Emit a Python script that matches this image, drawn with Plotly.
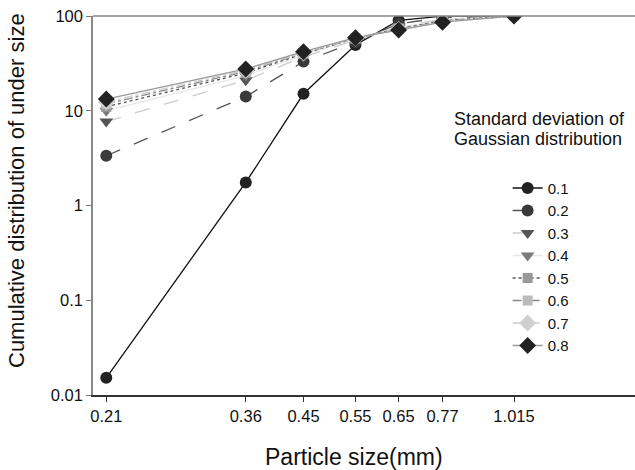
import plotly.graph_objects as go
import math

particle_size = [0.21, 0.36, 0.45, 0.55, 0.65, 0.77, 1.015]
tick_labels = ["0.21", "0.36", "0.45", "0.55", "0.65", "0.77", "1.015"]
series_names = ["0.1", "0.2", "0.3", "0.4", "0.5", "0.6", "0.7", "0.8"]

s01 = [0.0152, 1.75, 15.1, 49.5, 90, 99.5, 100]
s02 = [3.35, 14.1, 33, 53, 83, 96, 100]
s03 = [7.7, 21, 37, 56, 78, 92, 100]
s04 = [10, 23.5, 39, 57, 76, 90, 100]
s05 = [11, 25, 40, 58, 74, 89, 100]
s06 = [11.8, 26, 40.5, 58, 73, 88, 100]
s07 = [12.4, 26.8, 41, 58.5, 72, 87, 100]
s08 = [13.3, 27.6, 42, 59, 71, 86, 100]
values = [s01, s02, s03, s04, s05, s06, s07, s08]

styles = [
    dict(lc="#111111", dash="solid", sym="circle", mc="#222222", ms=12),
    dict(lc="#555555", dash="longdash", sym="circle", mc="#3a3a3a", ms=12),
    dict(lc="#cccccc", dash="longdash", sym="triangle-down", mc="#555555", ms=12),
    dict(lc="#e8e8e8", dash="solid", sym="triangle-down", mc="#7a7a7a", ms=12),
    dict(lc="#555555", dash="dot", sym="square", mc="#999999", ms=10),
    dict(lc="#888888", dash="dashdot", sym="square", mc="#bbbbbb", ms=10),
    dict(lc="#cccccc", dash="dashdot", sym="diamond", mc="#d0d0d0", ms=13),
    dict(lc="#999999", dash="solid", sym="diamond", mc="#222222", ms=13),
]

fig = go.Figure()
for name, vals, st in zip(series_names, values, styles):
    fig.add_trace(go.Scatter(
        x=particle_size, y=vals, name=name, mode="lines+markers",
        line=dict(color=st["lc"], dash=st["dash"], width=1.3),
        marker=dict(symbol=st["sym"], color=st["mc"], size=st["ms"], line=dict(width=0)),
    ))

font = "Liberation Sans, Arial, sans-serif"
L, T, B, W = 93, 16, 395, 542
H = B - T
fig.update_layout(
    width=635, height=470,
    margin=dict(l=L, r=635 - L - W, t=T, b=470 - B),
    paper_bgcolor="white", plot_bgcolor="white",
    font=dict(family=font, size=16, color="#111111"),
    showlegend=True,
    legend=dict(x=0.765, y=0.589, xanchor="left", yanchor="top",
                font=dict(size=15, family=font, color="#111111"),
                bgcolor="rgba(0,0,0,0)", tracegroupgap=0, itemwidth=30),
    xaxis=dict(type="log", range=[math.log10(0.1995), math.log10(1.62)],
               tickvals=particle_size, ticktext=tick_labels,
               ticks="outside", ticklen=5, tickcolor="#333333",
               showline=True, linecolor="#333333", linewidth=1.5,
               showgrid=False, zeroline=False,
               tickfont=dict(size=16.5)),
    yaxis=dict(type="log", range=[-2, 2],
               tickvals=[0.01, 0.1, 1, 10, 100], ticktext=["0.01", "0.1", "1", "10", "100"],
               ticks="outside", ticklen=5, tickcolor="#777777",
               showline=True, linecolor="#888888", linewidth=1.5,
               showgrid=False, zeroline=False,
               tickfont=dict(size=16.5)),
    shapes=[dict(type="line", xref="paper", yref="paper", x0=0, x1=1, y0=1, y1=1,
                 line=dict(color="#888888", width=1.5))],
    annotations=[
        dict(text="Particle size(mm)", xref="paper", yref="paper",
             x=(354 - L) / W, y=(B - 457) / H, xanchor="center", yanchor="middle",
             showarrow=False, font=dict(size=23)),
        dict(text="Cumulative distribution of under size", xref="paper", yref="paper",
             x=(17 - L) / W, y=(B - 191) / H, xanchor="center", yanchor="middle",
             textangle=-90, showarrow=False, font=dict(size=22)),
        dict(text="Standard deviation of", xref="paper", yref="paper",
             x=(452 - L) / W, y=(B - 119) / H, xanchor="left", yanchor="middle",
             showarrow=False, font=dict(size=18)),
        dict(text="Gaussian distribution", xref="paper", yref="paper",
             x=(452 - L) / W, y=(B - 139) / H, xanchor="left", yanchor="middle",
             showarrow=False, font=dict(size=18)),
    ],
)

fig.write_html("out.html", config={"displayModeBar": False},
               post_script="document.body.style.margin='0px';")
